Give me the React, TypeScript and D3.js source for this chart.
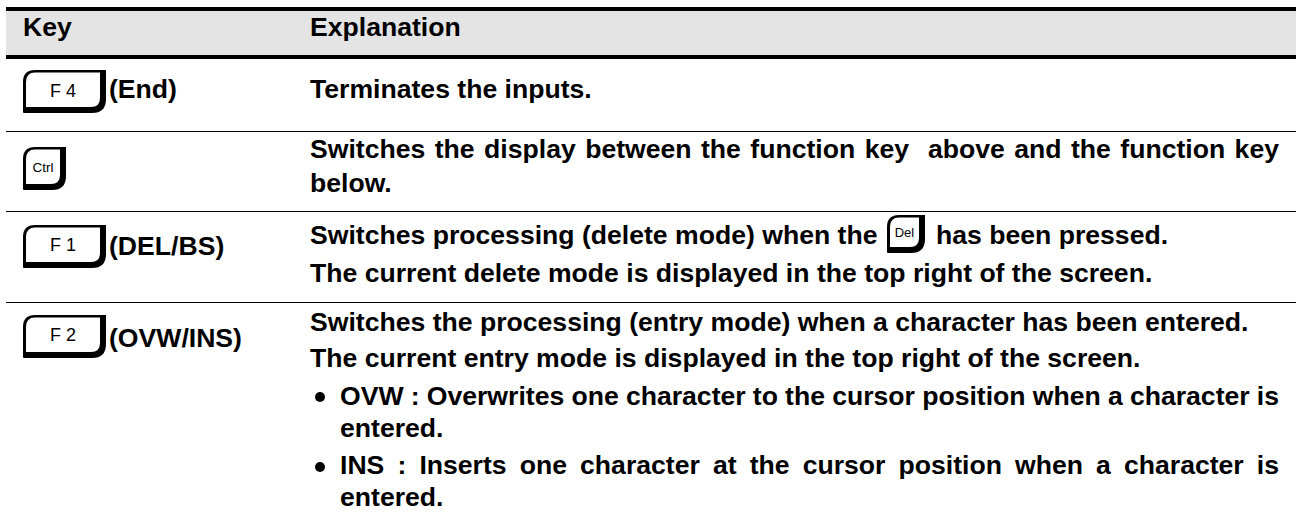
import React, { useEffect, useRef } from 'react';
import * as d3 from 'd3';

const WIDTH = 1297;
const HEIGHT = 522;
const FONT = '"Liberation Sans", Arial, sans-serif';

// table contents
const headers = ['Key', 'Explanation'];
const keyRows = [
  { cap: 'F 4', label: '(End)', x: 23, y: 70, w: 83, h: 43, size: 18, capY: 27, labelY: 98 },
  { cap: 'Ctrl', label: '', x: 23, y: 147, w: 43, h: 43, size: 13.5, capY: 25, labelY: 0 },
  { cap: 'F 1', label: '(DEL/BS)', x: 23, y: 225, w: 83, h: 43, size: 18, capY: 26, labelY: 255 },
  { cap: 'F 2', label: '(OVW/INS)', x: 23, y: 315, w: 83, h: 43, size: 18, capY: 26, labelY: 347 },
];
const inlineKeys = [{ cap: 'Del', label: '', x: 887, y: 215, w: 38, h: 38, size: 13, capY: 22, labelY: 0 }];
const explanationLines = [
  { text: 'Terminates the inputs.', x: 310, y: 98 },
  { text: 'Switches the display between the function key  above and the function key', x: 310, y: 158, justify: true },
  { text: 'below.', x: 310, y: 192 },
  { text: 'Switches processing (delete mode) when the', x: 310, y: 244 },
  { text: 'has been pressed.', x: 936, y: 244 },
  { text: 'The current delete mode is displayed in the top right of the screen.', x: 310, y: 282 },
  { text: 'Switches the processing (entry mode) when a character has been entered.', x: 310, y: 331 },
  { text: 'The current entry mode is displayed in the top right of the screen.', x: 310, y: 367 },
  { text: 'OVW : Overwrites one character to the cursor position when a character is', x: 340, y: 405, justify: true },
  { text: 'entered.', x: 340, y: 437 },
  { text: 'INS : Inserts one character at the cursor position when a character is', x: 340, y: 474, justify: true },
  { text: 'entered.', x: 340, y: 506 },
];
const bulletYs = [397, 467];
const rowLines = [131, 211, 302];

const RIGHT_EDGE = 1279;
const FONT_SIZE = 26.6;

export default function App() {
  const svgRef = useRef<SVGSVGElement | null>(null);

  useEffect(() => {
    const svg = d3.select(svgRef.current);
    svg.selectAll('*').remove();

    // header band
    svg.append('rect').attr('x', 6).attr('y', 9).attr('width', 1290).attr('height', 48).attr('fill', '#e4e4e4');
    svg.selectAll('line.rule')
      .data([9, 57])
      .enter()
      .append('line')
      .attr('class', 'rule')
      .attr('x1', 6).attr('x2', 1296)
      .attr('y1', (d) => d).attr('y2', (d) => d)
      .attr('stroke', '#000')
      .attr('stroke-width', 4);

    svg.selectAll('text.head')
      .data(headers)
      .enter()
      .append('text')
      .attr('class', 'head')
      .attr('x', (d, i) => (i === 0 ? 23 : 310))
      .attr('y', 36)
      .attr('font-family', FONT)
      .attr('font-weight', 'bold')
      .attr('font-size', FONT_SIZE)
      .text((d) => d);

    svg.selectAll('line.row')
      .data(rowLines)
      .enter()
      .append('line')
      .attr('class', 'row')
      .attr('x1', 6).attr('x2', 1296)
      .attr('y1', (d) => d + 0.5).attr('y2', (d) => d + 0.5)
      .attr('stroke', '#000')
      .attr('stroke-width', 1);

    // keyboard key caps: black body with a white face pushed to the top left
    const drawKey = (k: typeof keyRows[number]) => {
      const g = svg.append('g').attr('transform', `translate(${k.x},${k.y})`);
      const tl = 12; // top left corner
      const br = 14; // bottom right corner
      const outer = `M0,${k.h - 1} V${tl} Q0,0 ${tl},0 H${k.w} V${k.h - br} Q${k.w},${k.h} ${k.w - br},${k.h} H1 Q0,${k.h} 0,${k.h - 1} Z`;
      g.append('path').attr('d', outer).attr('fill', '#000');
      const inW = k.w - 6;
      const inH = k.h - 6;
      const inner = `M3,${inH} V${tl} Q3,2.5 ${tl},2.5 H${inW} V${inH - 9} Q${inW},${inH} ${inW - 9},${inH} Z`;
      g.append('path').attr('d', inner).attr('fill', '#fff');
      g.append('text')
        .attr('x', inW / 2 + 1.5)
        .attr('y', k.capY)
        .attr('text-anchor', 'middle')
        .attr('font-family', FONT)
        .attr('font-size', k.size)
        .text(k.cap);
      if (k.label) {
        svg.append('text')
          .attr('x', k.x + k.w + 3)
          .attr('y', k.labelY)
          .attr('font-family', FONT)
          .attr('font-weight', 'bold')
          .attr('font-size', FONT_SIZE)
          .text(k.label);
      }
    };
    keyRows.forEach(drawKey);
    inlineKeys.forEach(drawKey);

    // explanation column, justified lines get extra word spacing
    svg.selectAll('text.line')
      .data(explanationLines)
      .enter()
      .append('text')
      .attr('class', 'line')
      .attr('x', (d) => d.x)
      .attr('y', (d) => d.y)
      .attr('font-family', FONT)
      .attr('font-weight', 'bold')
      .attr('font-size', FONT_SIZE)
      .style('white-space', 'pre')
      .text((d) => d.text)
      .each(function (d) {
        if (!d.justify) return;
        const el = this as SVGTextElement;
        const gaps = d.text.split(' ').length - 1;
        const extra = (RIGHT_EDGE - d.x - el.getComputedTextLength()) / gaps;
        d3.select(el).style('word-spacing', `${extra}px`);
      });

    svg.selectAll('circle.bullet')
      .data(bulletYs)
      .enter()
      .append('circle')
      .attr('class', 'bullet')
      .attr('cx', 320)
      .attr('cy', (d) => d)
      .attr('r', 5)
      .attr('fill', '#000');
  }, []);

  return (
    <svg
      ref={svgRef}
      width={WIDTH}
      height={HEIGHT}
      style={{ position: 'absolute', left: 0, top: 0, background: '#fff' }}
    />
  );
}
